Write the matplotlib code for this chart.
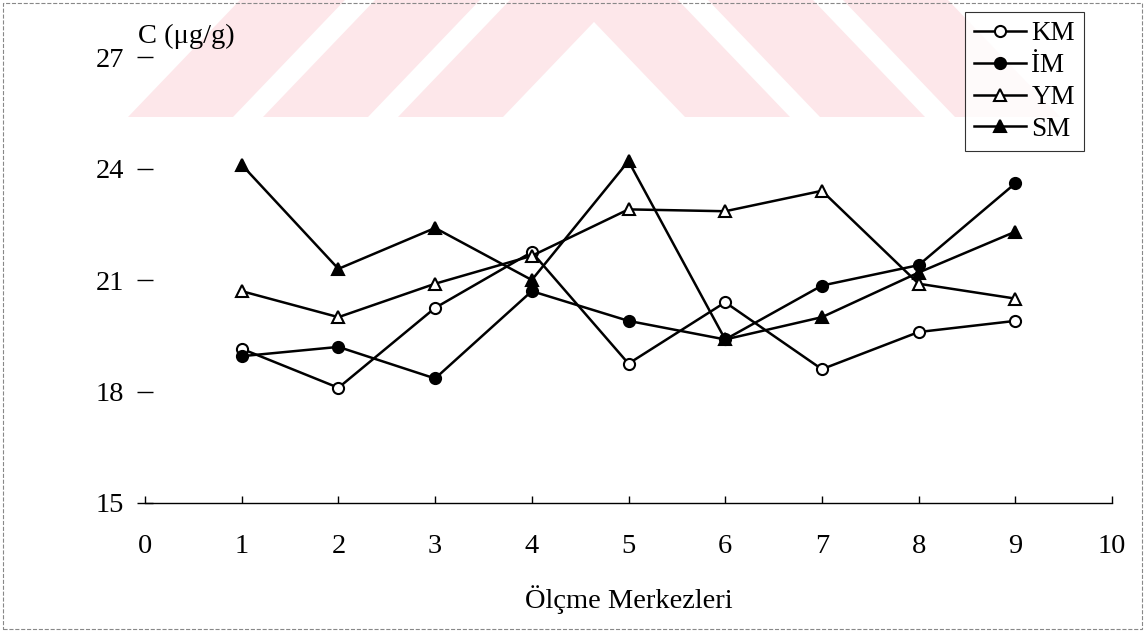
import matplotlib
matplotlib.use('Agg')
import matplotlib.pyplot as plt
from matplotlib.patches import Polygon, Rectangle

plt.rcParams['font.family'] = ['Liberation Serif', 'DejaVu Serif']

# Ölçme merkezleri ve konsantrasyonlar (µg/g)
merkez = [1, 2, 3, 4, 5, 6, 7, 8, 9]
KM = [19.15, 18.1, 20.25, 21.75, 18.75, 20.4, 18.6, 19.6, 19.9]
IM = [18.95, 19.2, 18.35, 20.7, 19.9, 19.4, 20.85, 21.4, 23.6]
YM = [20.7, 20.0, 20.9, 21.65, 22.9, 22.85, 23.4, 20.9, 20.5]
SM = [24.1, 21.3, 22.4, 21.0, 24.2, 19.4, 20.0, 21.2, 22.3]

x_ticks = list(range(0, 11))
y_ticks = [15, 18, 21, 24, 27]

W, H = 1148, 632
fig = plt.figure(figsize=(W / 100, H / 100), dpi=100)


def px(x, y):
    return (x / W, 1 - y / H)


# soluk kırmızı filigran (taranmış sayfadaki)
pink = '#fde7ea'
for x0 in [128, 263, 398]:
    pts = [px(x0, 117), px(x0 + 105, 117), px(x0 + 217, 0), px(x0 + 112, 0)]
    fig.patches.append(Polygon(pts, closed=True, transform=fig.transFigure,
                               facecolor=pink, edgecolor='none', zorder=-5))
for x0 in [1060, 925, 790]:
    pts = [px(x0, 117), px(x0 - 105, 117), px(x0 - 217, 0), px(x0 - 112, 0)]
    fig.patches.append(Polygon(pts, closed=True, transform=fig.transFigure,
                               facecolor=pink, edgecolor='none', zorder=-5))

# sayfa çerçevesi
fig.patches.append(Rectangle(px(3, 629), (W - 9) / W, 626 / H, transform=fig.transFigure,
                             fill=False, edgecolor='#888888', lw=0.8, ls='--', zorder=-4))

ax = fig.add_axes([145 / W, (H - 503) / H, (1112 - 145) / W, (503 - 57) / H])
ax.set_facecolor('none')

line_kw = dict(color='black', lw=1.8, markersize=8, markeredgewidth=1.5, markeredgecolor='black')
ax.plot(merkez, KM, marker='o', markerfacecolor='white', label='KM', **line_kw)
ax.plot(merkez, IM, marker='o', markerfacecolor='black', label='İM', **line_kw)
ax.plot(merkez, YM, marker='^', markerfacecolor='white', label='YM', **line_kw)
ax.plot(merkez, SM, marker='^', markerfacecolor='black', label='SM', **line_kw)

ax.set_xlim(0, 10)
ax.set_ylim(15, 27)
ax.set_xticks(x_ticks)
ax.set_yticks(y_ticks)
for s in ['top', 'right', 'left']:
    ax.spines[s].set_visible(False)
ax.spines['bottom'].set_linewidth(1.0)
ax.tick_params(axis='x', direction='in', length=5, width=1, pad=22, labelsize=20.5)
ax.tick_params(axis='y', direction='inout', length=12, width=1, pad=9, labelsize=20.5)

fig.text(138 / W, 1 - 43 / H, 'C (μg/g)', fontsize=20.5, ha='left', va='baseline')
fig.text(629 / W, 1 - 600 / H, 'Ölçme Merkezleri', fontsize=20.5, ha='center', va='center')

leg = ax.legend(loc='upper left', bbox_to_anchor=px(965, 12), bbox_transform=fig.transFigure,
                fontsize=19.5, frameon=True, fancybox=False, borderaxespad=0,
                handlelength=1.9, handletextpad=0.2, labelspacing=0.25, borderpad=0.35)
leg.get_frame().set_edgecolor('black')
leg.get_frame().set_linewidth(0.8)

plt.savefig('out.png', dpi=100, facecolor='white')
